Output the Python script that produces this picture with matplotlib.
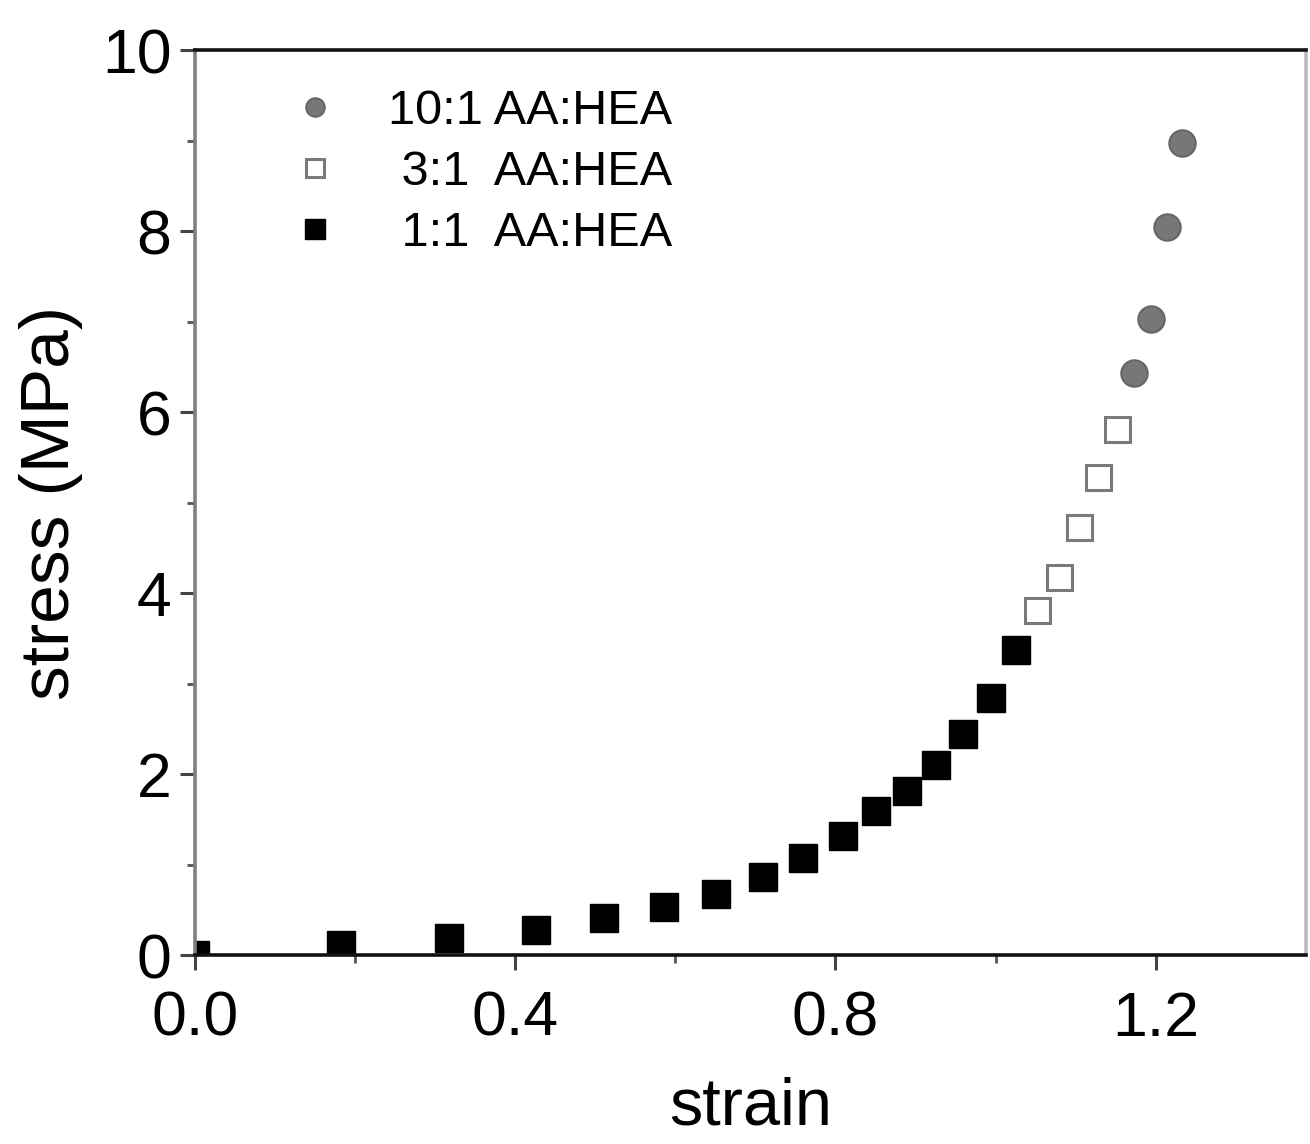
import numpy as np
import matplotlib
matplotlib.use("Agg")
import matplotlib.pyplot as plt
from matplotlib.ticker import MultipleLocator

plt.rcParams["font.family"] = ["Liberation Sans", "DejaVu Sans"]

# 1:1 AA:HEA (solid black squares)
strain_11 = [0.0, 0.182, 0.317, 0.426, 0.511, 0.586, 0.651, 0.709, 0.759,
             0.809, 0.851, 0.889, 0.926, 0.959, 0.994, 1.025]
stress_11 = [0.0, 0.11, 0.19, 0.28, 0.41, 0.53, 0.68, 0.86, 1.07,
             1.32, 1.59, 1.82, 2.10, 2.44, 2.84, 3.37]
# 3:1 AA:HEA (open squares)
strain_31 = [1.052, 1.079, 1.104, 1.128, 1.152]
stress_31 = [3.82, 4.18, 4.73, 5.28, 5.82]
# 10:1 AA:HEA (grey circles)
strain_101 = [1.173, 1.194, 1.214, 1.233]
stress_101 = [6.43, 7.03, 8.05, 8.98]

labels = ["10:1 AA:HEA", " 3:1  AA:HEA", " 1:1  AA:HEA"]

fig = plt.figure(figsize=(13.1, 11.44), dpi=100)
ax = fig.add_axes([0.149, 0.165, 0.848, 0.791])

ax.plot(strain_101, stress_101, "o", ms=19, mfc="#777777", mec="#666666", mew=1.5,
        ls="none", label=labels[0])
ax.plot(strain_31, stress_31, "s", ms=18, mfc="white", mec="#7a7a7a", mew=2.2,
        ls="none", label=labels[1])
ax.plot(strain_11, stress_11, "s", ms=20, mfc="black", mec="black", mew=1,
        ls="none", label=labels[2])

ax.set_xlim(0, 1.388)
ax.set_ylim(0, 10)
ax.xaxis.set_major_locator(MultipleLocator(0.4))
ax.xaxis.set_minor_locator(MultipleLocator(0.2))
ax.yaxis.set_major_locator(MultipleLocator(2))
ax.yaxis.set_minor_locator(MultipleLocator(1))
ax.xaxis.set_major_formatter(plt.FuncFormatter(lambda v, p: f"{v:.1f}"))
ax.yaxis.set_major_formatter(plt.FuncFormatter(lambda v, p: f"{v:.0f}"))

ax.tick_params(which="major", direction="out", length=11, width=2.2,
               labelsize=45, color="#444444", pad=6)
ax.tick_params(which="minor", direction="out", length=6, width=2.0, color="#555555")
ax.tick_params(axis="x", which="major", pad=14)

for side, col in (("left", "#7f7f7f"), ("bottom", "#111111"),
                  ("top", "#111111"), ("right", "#bbbbbb")):
    ax.spines[side].set_color(col)
    ax.spines[side].set_linewidth(2.6)

ax.set_xlabel("strain", fontsize=48, labelpad=20)
ax.set_ylabel("stress (MPa)", fontsize=50, labelpad=14)

ax.legend(loc="upper left", bbox_to_anchor=(0.055, 0.995), frameon=False,
          fontsize=35, markerscale=0.7, handlelength=1.0, handletextpad=1.0,
          labelspacing=0.33, borderpad=0.2)

fig.savefig("out.png", dpi=100, facecolor="white")
